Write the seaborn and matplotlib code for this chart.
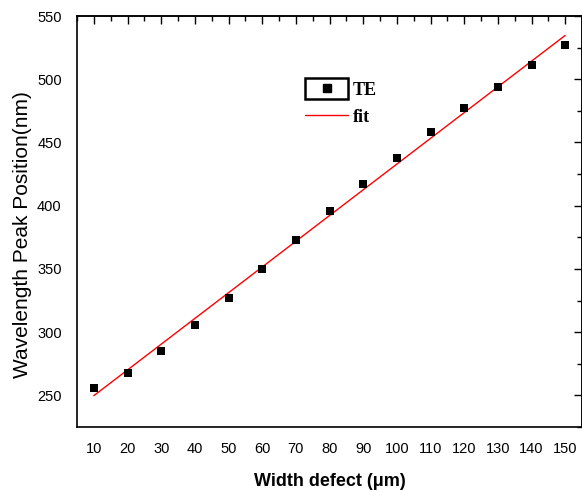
import numpy as np
import pandas as pd
import matplotlib
matplotlib.use("Agg")
import matplotlib.pyplot as plt
from matplotlib.patches import Rectangle
from matplotlib.legend_handler import HandlerLine2D
from matplotlib.lines import Line2D
from matplotlib.ticker import MultipleLocator, NullFormatter
import seaborn as sns

# Measured peak positions for the TE mode
width_um = [10, 20, 30, 40, 50, 60, 70, 80, 90, 100, 110, 120, 130, 140, 150]
peak_nm = [256, 268, 285, 306, 327, 350, 373, 396, 417, 438, 458, 477, 494, 511, 527]

x_ticks = [10, 20, 30, 40, 50, 60, 70, 80, 90, 100, 110, 120, 130, 140, 150]
y_ticks = [250, 300, 350, 400, 450, 500, 550]

df = pd.DataFrame({"width": width_um, "peak": peak_nm})

# Linear fit of the peak position versus defect width
slope, intercept = np.polyfit(df["width"], df["peak"], 1)
fit_df = pd.DataFrame({"width": [width_um[0], width_um[-1]]})
fit_df["peak"] = intercept + slope * fit_df["width"]

sns.set_style("white")
plt.rcParams["font.family"] = ["Liberation Sans", "DejaVu Sans"]
plt.rcParams["text.color"] = "black"
plt.rcParams["axes.labelcolor"] = "black"
plt.rcParams["xtick.color"] = "black"
plt.rcParams["ytick.color"] = "black"

fig = plt.figure(figsize=(5.82, 4.91), dpi=100)
ax = fig.add_axes([77 / 582, 64 / 491, 505 / 582, 411 / 491])

sns.scatterplot(data=df, x="width", y="peak", marker="s", s=30, color="black",
                linewidth=0, ax=ax, legend=False, zorder=3)
sns.lineplot(data=fit_df, x="width", y="peak", color="red", linewidth=1.0,
             ax=ax, legend=False, zorder=2)

ax.set_xlim(5, 155)
ax.set_ylim(225, 550)
ax.set_xticks(x_ticks)
ax.set_yticks(y_ticks)
ax.xaxis.set_minor_locator(MultipleLocator(5))
ax.yaxis.set_minor_locator(MultipleLocator(25))

for side in ["left", "right", "top", "bottom"]:
    ax.spines[side].set_visible(True)
    ax.spines[side].set_color("black")
    ax.spines[side].set_linewidth(1.2)

ax.tick_params(which="both", direction="out", top=False, right=False,
               color="black", labelcolor="black", width=1.0)
ax.tick_params(which="major", length=7, labelsize=10.5, pad=4)
ax.tick_params(which="minor", length=3.5)

# Inward ticks along the top and right edges
top = ax.secondary_xaxis("top")
top.set_xticks(x_ticks)
top.xaxis.set_minor_locator(MultipleLocator(5))
top.xaxis.set_major_formatter(NullFormatter())
top.tick_params(which="both", direction="in", color="black", width=1.0)
top.tick_params(which="major", length=6)
top.tick_params(which="minor", length=3.5)
top.spines["top"].set_linewidth(1.2)

right = ax.secondary_yaxis("right")
right.set_yticks(y_ticks)
right.yaxis.set_minor_locator(MultipleLocator(25))
right.yaxis.set_major_formatter(NullFormatter())
right.tick_params(which="both", direction="in", color="black", width=1.0)
right.tick_params(which="major", length=6)
right.tick_params(which="minor", length=3.5)
right.spines["right"].set_linewidth(1.2)

ax.set_xlabel("Width defect (\u03bcm)", fontsize=13, fontweight="bold", labelpad=12)
ax.set_ylabel("Wavelength Peak Position(nm)", fontsize=15)
ax.yaxis.set_label_coords(-0.09, 0.468)


class BoxedMarkerHandler(HandlerLine2D):
    """Legend entry with the marker enclosed in a rectangle."""

    def create_artists(self, legend, orig_handle, xdescent, ydescent,
                       width, height, fontsize, trans):
        artists = super().create_artists(legend, orig_handle, xdescent, ydescent,
                                         width, height, fontsize, trans)
        pad_y = height * 0.35
        box = Rectangle((-xdescent, -ydescent - pad_y), width, height + 2 * pad_y,
                        fill=False, edgecolor="black", linewidth=1.8,
                        transform=trans)
        return [box] + list(artists)


te_handle = Line2D([], [], linestyle="none", marker="s", markersize=6,
                   color="black")
fit_handle = Line2D([], [], color="red", linewidth=1.0)
ax.legend([te_handle, fit_handle], ["TE", "fit"],
          handler_map={te_handle: BoxedMarkerHandler()},
          loc="upper left", bbox_to_anchor=(228 / 505, 0.84), frameon=False,
          borderpad=0, borderaxespad=0,
          handlelength=2.4, handletextpad=0.25, labelspacing=0.55,
          prop={"family": "Liberation Serif", "weight": "bold", "size": 13})

fig.savefig("out.png", dpi=100)
